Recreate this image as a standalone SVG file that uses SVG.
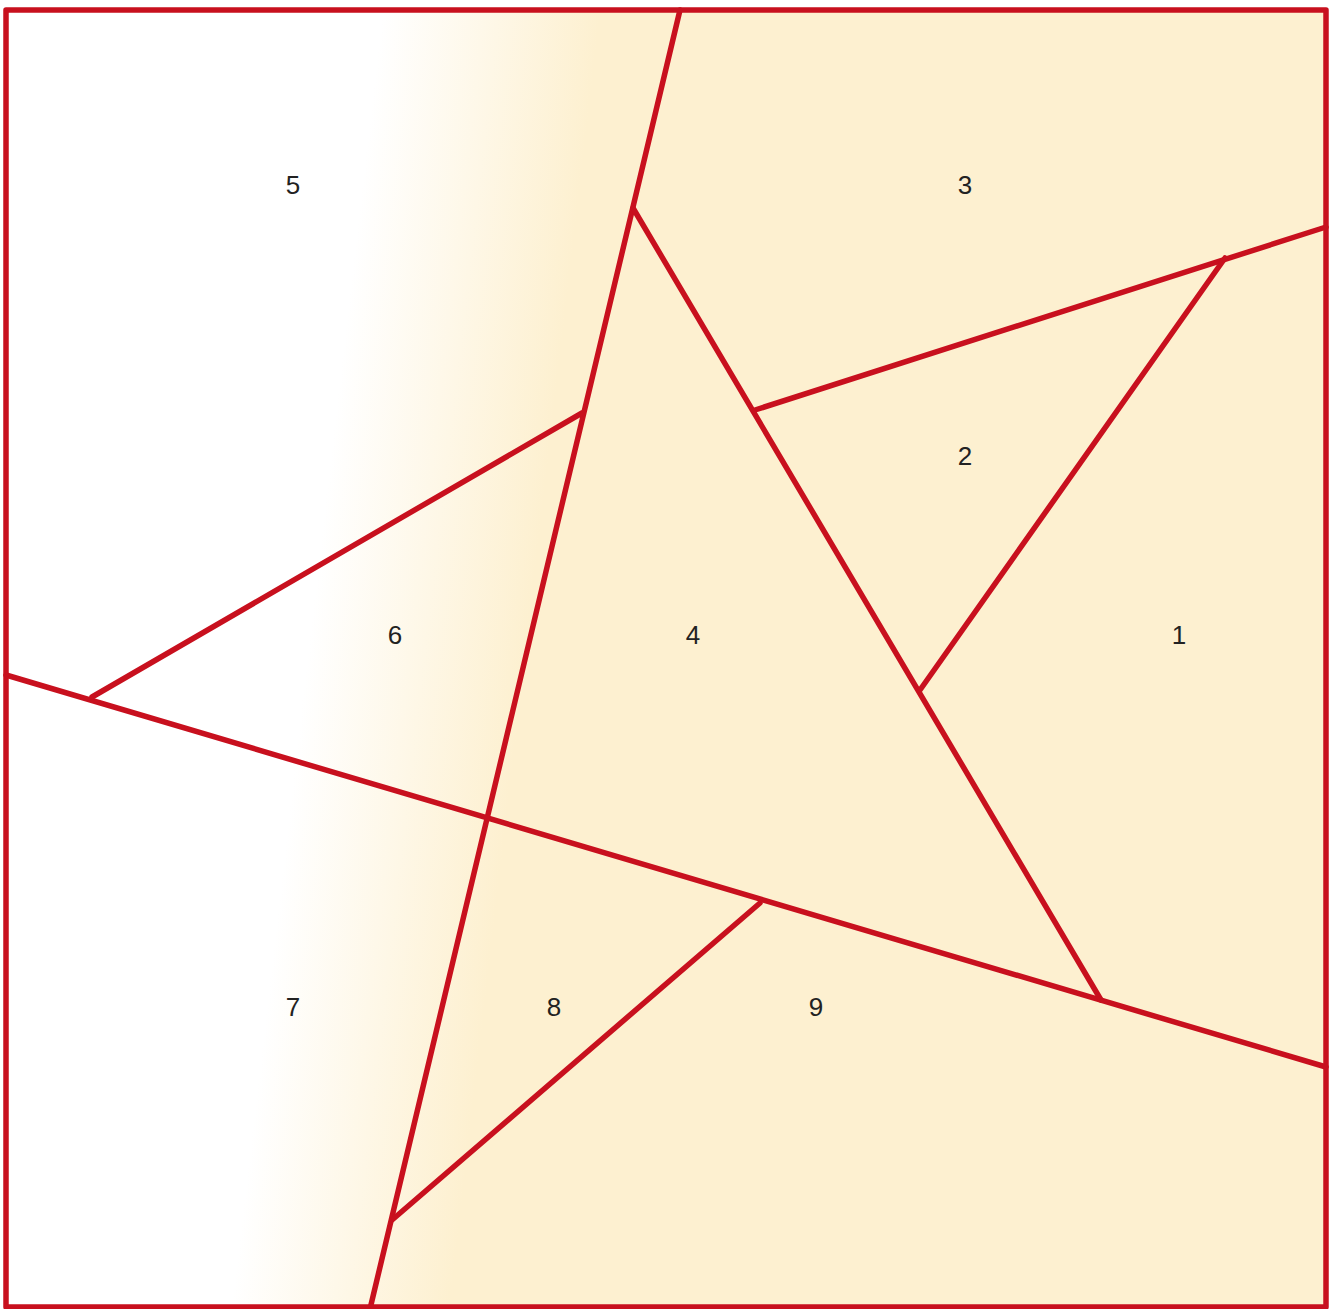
<svg xmlns="http://www.w3.org/2000/svg" width="1338" height="1309" viewBox="0 0 1338 1309">
<defs>
<linearGradient id="bg" gradientUnits="userSpaceOnUse" x1="335" y1="420" x2="550" y2="445">
<stop offset="0" stop-color="#ffffff"/>
<stop offset="1" stop-color="#fdf0d0"/>
</linearGradient>
</defs>
<style>
.ln{stroke:#c8101e;stroke-width:5.5;fill:none;stroke-linecap:round;stroke-linejoin:round}
.lb{font-family:"Liberation Sans",Arial,sans-serif;font-size:26px;fill:#222;text-anchor:middle}
</style>
<rect x="0" y="0" width="1338" height="1309" fill="#ffffff"/>
<rect x="6" y="10" width="1320" height="1297" fill="url(#bg)"/>
<g id="connectors">
<line class="ln" x1="680" y1="10" x2="370" y2="1309"/>
<line class="ln" x1="6" y1="675" x2="1326" y2="1067"/>
<line class="ln" x1="633" y1="208" x2="1101" y2="1000"/>
<line class="ln" x1="755" y1="410" x2="1326" y2="227"/>
<line class="ln" x1="1225" y1="258" x2="920" y2="690"/>
<line class="ln" x1="92" y1="697" x2="582" y2="413"/>
<line class="ln" x1="760" y1="903" x2="392" y2="1220"/>
</g>
<rect x="6" y="10" width="1320" height="1297" class="ln" stroke-linecap="butt" stroke-linejoin="miter"/>
<g id="n1"><text class="lb" x="1179" y="644">1</text></g>
<g id="n2"><text class="lb" x="965" y="465">2</text></g>
<g id="n3"><text class="lb" x="965" y="194">3</text></g>
<g id="n4"><text class="lb" x="693" y="644">4</text></g>
<g id="n5"><text class="lb" x="293" y="194">5</text></g>
<g id="n6"><text class="lb" x="395" y="644">6</text></g>
<g id="n7"><text class="lb" x="293" y="1016">7</text></g>
<g id="n8"><text class="lb" x="554" y="1016">8</text></g>
<g id="n9"><text class="lb" x="816" y="1016">9</text></g>
</svg>
